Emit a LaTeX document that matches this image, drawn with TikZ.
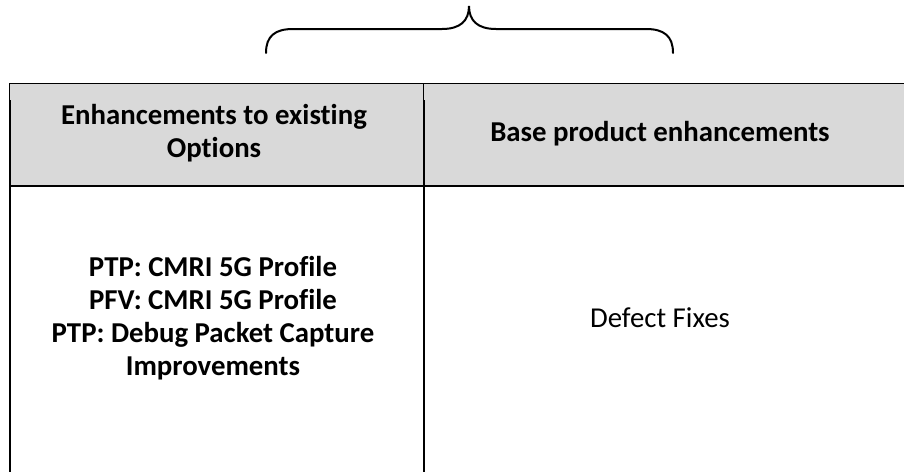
\documentclass[tikz,border=0pt]{standalone}
\usepackage{fontspec}
\setmainfont[Ligatures=CommonOff]{Carlito}
\definecolor{hdrgray}{HTML}{D9D9D9}
\begin{document}
\begin{tikzpicture}[x=1pt,y=-1pt,
  txt/.style={align=center,inner sep=0pt,font=\fontsize{28.8}{33}\selectfont},
  hdr/.style={txt,font=\fontsize{28.8}{33}\selectfont\bfseries},
  thinline/.style={line width=1pt},
  thickline/.style={line width=2.2pt}]
\useasboundingbox (0,0) rectangle (904,472);
% header fill
\fill[hdrgray] (10,83) rectangle (904,186);
% borders
\draw[thinline] (9.5,83) -- (904,83);
\draw[thinline] (9.5,83) -- (9.5,100);
\draw[thinline] (423.5,83) -- (423.5,100);
\draw[thickline] (10,100) -- (10,472);
\draw[thickline] (424,100) -- (424,472);
\draw[thickline] (10,186) -- (904,186);
% brace
\draw[line width=2pt,line cap=round]
  (266,53) .. controls (266,36) and (275,29) .. (293,29) -- (442,29)
  .. controls (460,29) and (469,21) .. (469,6)
  .. controls (469,21) and (478,29) .. (496,29) -- (646,29)
  .. controls (664,29) and (673,36) .. (673,53);
% texts
\node[hdr] (h1) at (214,133.5) {Enhancements to existing\\Options};
\node[hdr] (h2) at (660,133.5) {Base product enhancements};
\node[hdr] (b1) at (213,318.5) {PTP: CMRI 5G Profile\\PFV: CMRI 5G Profile\\PTP: Debug Packet Capture\\Improvements};
\node[txt] (b2) at (660,318) {Defect Fixes};
\end{tikzpicture}
\end{document}
